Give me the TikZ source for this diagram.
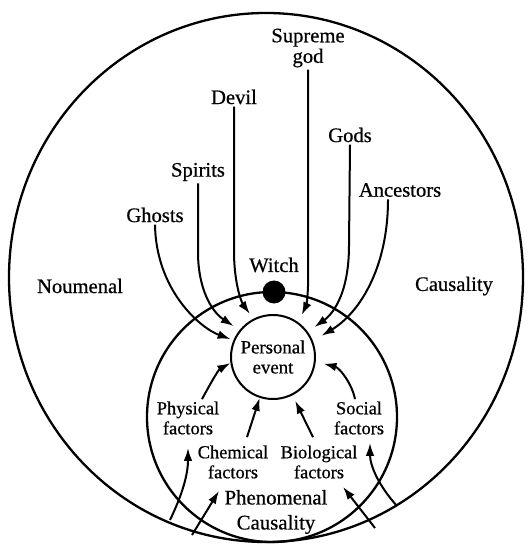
\documentclass[tikz,border=0pt]{standalone}
\usepackage{fontspec}
\setmainfont{Liberation Serif}[FakeBold=0.6]
\usetikzlibrary{arrows.meta}
\begin{document}
\begin{tikzpicture}[x=0.5pt,y=-0.5pt,
 lbl/.style={font=\fontsize{10.3}{10.3}\selectfont, align=center, inner sep=1pt},
 sml/.style={font=\fontsize{9.2}{10}\selectfont, align=center, inner sep=1pt},
 big/.style={font=\fontsize{10.4}{12.5}\selectfont, align=center, inner sep=1pt},
 arr/.style={line width=1pt, -{Latex[length=6.5pt,width=4.3pt]}},
 ring/.style={line width=1.15pt}]
\useasboundingbox (0,0) rectangle (530,544);
% circles
\draw[ring] (266,277.5) ellipse [x radius=257, y radius=264.5];
\draw[ring] (272,417) circle [radius=125];
\node[circle, draw, line width=1pt, minimum size=42pt, inner sep=0pt,
      font=\fontsize{9.4}{10}\selectfont, align=center] (pe) at (273,357) {Personal\\event};
\node[circle, fill, minimum size=11.5pt, inner sep=0pt] (dot) at (274,292) {};
% upper labels
\node[lbl] (ghosts) at (155,215) {Ghosts};
\node[lbl] (spirits) at (198,172) {Spirits};
\node[lbl] (devil) at (234,97) {Devil};
\node[lbl] (supreme) at (308,48) {Supreme\\god};
\node[lbl] (gods) at (350,135) {Gods};
\node[lbl] (ancestors) at (400,190) {Ancestors};
\node[lbl] (witch) at (274,265) {Witch};
\node[lbl] (noumenal) at (80,286) {Noumenal};
\node[lbl] (causality) at (454,286) {Causality};
% lower labels
\node[sml] (physical) at (188,418) {Physical\\factors};
\node[sml] (social) at (359,418) {Social\\factors};
\node[sml] (chemical) at (233,462) {Chemical\\factors};
\node[sml] (biological) at (319,462) {Biological\\factors};
\node[big] (phen) at (276,512) {Phenomenal\\Causality};
% noumenal arrows
\draw[arr, shorten >=1.5pt] (ghosts.south) .. controls (156,290) and (200,328) .. (pe.157);
\draw[arr, shorten >=3.5pt] (spirits.south) -- (198,255) .. controls (199,295) and (215,314) .. (pe.141);
\draw[arr, shorten >=3pt] (devil.south) -- (234,255) .. controls (235,292) and (244,306) .. (pe.117);
\draw[arr, shorten >=4pt] (supreme.south) -- (308,265) .. controls (309,292) and (306,306) .. (pe.54);
\draw[arr, shorten >=4pt] (gods.south) -- (349,245) .. controls (349,298) and (330,316) .. (pe.36);
\draw[arr, shorten >=5pt] ([xshift=-6pt]ancestors.south) .. controls (388,270) and (358,314) .. (pe.22);
% phenomenal arrows
\draw[arr] ([xshift=7pt]physical.north) .. controls (208,388) and (218,370) .. (pe.188);
\draw[arr] ([xshift=7pt,yshift=3pt]chemical.north) -- (pe.252);
\draw[arr, shorten >=3pt] ([xshift=-3pt,yshift=3pt]biological.north) -- (pe.297);
\draw[arr, shorten >=4pt] ([xshift=-2pt]social.north) .. controls (352,384) and (340,368) .. (pe.354);
% inputs from below
\coordinate (b1) at (170,520);
\coordinate (b2) at (192,535);
\coordinate (b3) at (375,528);
\coordinate (b4) at (397,506);
\draw[arr, shorten >=5.5pt] (b1) .. controls (182,495) and (188,475) .. (physical.south);
\draw[arr] (b2) -- ([xshift=-7pt,yshift=-5pt]chemical.south);
\draw[arr] (b3) -- ([xshift=12pt,yshift=-3pt]biological.south);
\draw[arr] (b4) .. controls (378,485) and (370,465) .. ([xshift=5.5pt,yshift=-3pt]social.south);
\end{tikzpicture}
\end{document}
